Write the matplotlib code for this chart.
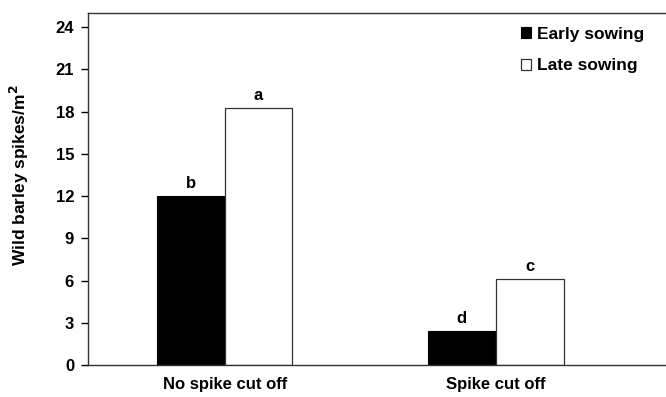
import matplotlib.pyplot as plt
import numpy as np

plt.rcParams['font.family'] = ['Liberation Sans', 'DejaVu Sans']
plt.rcParams['font.weight'] = 'bold'

treatments = ["No spike cut off", "Spike cut off"]
early_sowing = [12.0, 2.43]
late_sowing = [18.27, 6.13]
early_letters = ["b", "d"]
late_letters = ["a", "c"]
y_ticks = [0, 3, 6, 9, 12, 15, 18, 21, 24]

fig = plt.figure(figsize=(6.66, 3.97), dpi=100)
ax = fig.add_axes([88 / 666, 32 / 397, 578 / 666, 352 / 397])

x = np.arange(len(treatments))
width = 0.25
b1 = ax.bar(x - width / 2, early_sowing, width, color="black", edgecolor="black",
            linewidth=0.8, label="Early sowing")
b2 = ax.bar(x + width / 2, late_sowing, width, color="white", edgecolor="#333333",
            linewidth=0.9, label="Late sowing")

for rect, lab in zip(b1, early_letters):
    ax.text(rect.get_x() + rect.get_width() / 2, rect.get_height() + 0.35, lab,
            ha="center", va="bottom", fontsize=12, fontweight="bold")
for rect, lab in zip(b2, late_letters):
    ax.text(rect.get_x() + rect.get_width() / 2, rect.get_height() + 0.35, lab,
            ha="center", va="bottom", fontsize=12, fontweight="bold")

ax.set_xlim(-0.504, 1.628)
ax.set_ylim(0, 25)
ax.set_yticks(y_ticks)
ax.set_xticks(x)
ax.set_xticklabels(treatments, fontsize=12, fontweight="bold")
ax.tick_params(axis="x", length=0, pad=9)
ax.tick_params(axis="y", direction="out", length=5, width=1, labelsize=12, pad=5)
for t in ax.get_yticklabels():
    t.set_fontweight("bold")

ax.spines["right"].set_visible(False)
for s in ["left", "top", "bottom"]:
    ax.spines[s].set_color("#333333")
    ax.spines[s].set_linewidth(1.0)

ax.set_ylabel("Wild barley spikes/m$\\mathbf{^2}$", fontsize=12.5, fontweight="bold")
ax.yaxis.set_label_coords(-0.099, 0.54)

leg = ax.legend(loc="upper right", bbox_to_anchor=(0.99, 1.005), frameon=False,
                fontsize=12.5, handlelength=0.6, handleheight=0.6, handletextpad=0.35,
                labelspacing=0.95)
for t in leg.get_texts():
    t.set_fontweight("bold")

fig.savefig("out.png", dpi=100)
